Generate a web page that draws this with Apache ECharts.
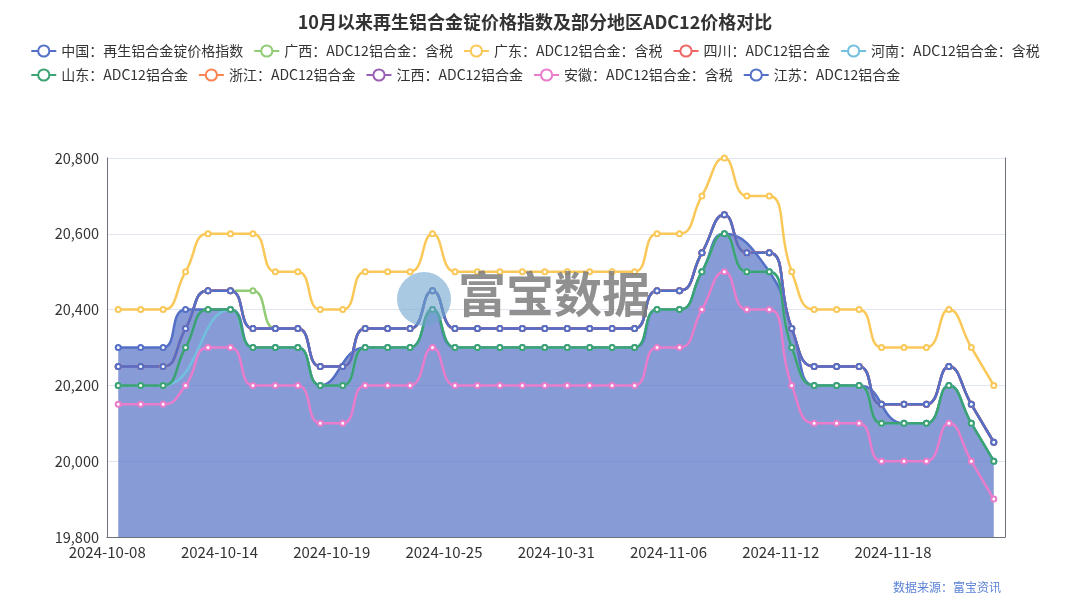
<!DOCTYPE html>
<html>
<head>
<meta charset="utf-8">
<script src="https://cdn.jsdelivr.net/npm/echarts@6/dist/echarts.min.js"></script>
<style>
  html, body { margin: 0; padding: 0; background: #fff; }
  #chart { width: 1070px; height: 600px; }
</style>
</head>
<body>
<div id="chart"></div>
<script>
const FONT = '"Noto Sans CJK SC", "Noto Sans", sans-serif';

const titleText = '10月以来再生铝合金锭价格指数及部分地区ADC12价格对比';
const sourceText = '数据来源：富宝资讯';

const dates = ['2024-10-08','2024-10-09','2024-10-10','2024-10-11','2024-10-12','2024-10-14','2024-10-15','2024-10-16','2024-10-17','2024-10-18',
  '2024-10-19','2024-10-21','2024-10-22','2024-10-23','2024-10-24','2024-10-25','2024-10-26','2024-10-28','2024-10-29','2024-10-30',
  '2024-10-31','2024-11-01','2024-11-02','2024-11-04','2024-11-05','2024-11-06','2024-11-07','2024-11-08','2024-11-09','2024-11-11',
  '2024-11-12','2024-11-13','2024-11-14','2024-11-15','2024-11-16','2024-11-18','2024-11-19','2024-11-20','2024-11-21','2024-11-22'];

const seriesNames = ['中国：再生铝合金锭价格指数','广西：ADC12铝合金：含税','广东：ADC12铝合金：含税','四川：ADC12铝合金','河南：ADC12铝合金：含税',
  '山东：ADC12铝合金','浙江：ADC12铝合金','江西：ADC12铝合金','安徽：ADC12铝合金：含税','江苏：ADC12铝合金'];

const chinaIndex = [20300,20300,20300,20400,null,20400,20300,20300,20300,20200,
  null,20300,20300,20300,20400,20300,null,20300,20300,20300,
  20300,20300,null,20300,20400,20400,20500,20600,null,20500,
  20350,20200,20200,20200,null,20100,20100,20200,20100,20000];
const guangxi = [20250,20250,20250,20350,20450,20450,20450,20350,20350,20250,
  20250,20350,20350,20350,20450,20350,20350,20350,20350,20350,
  20350,20350,20350,20350,20450,20450,20550,20650,20550,20550,
  20350,20250,20250,20250,20150,20150,20150,20250,20150,20050];
const guangdong = [20400,20400,20400,20500,20600,20600,20600,20500,20500,20400,
  20400,20500,20500,20500,20600,20500,20500,20500,20500,20500,
  20500,20500,20500,20500,20600,20600,20700,20800,20700,20700,
  20500,20400,20400,20400,20300,20300,20300,20400,20300,20200];
const sichuan = [20250,20250,20250,20350,20450,20450,20350,20350,20350,20250,
  20250,20350,20350,20350,20450,20350,20350,20350,20350,20350,
  20350,20350,20350,20350,20450,20450,20550,20650,20550,20550,
  20350,20250,20250,20250,20150,20150,20150,20250,20150,20050];
const henan = [20200,20200,20200,null,null,20400,20300,20300,20300,20200,
  20200,20300,20300,20300,20400,20300,20300,20300,20300,20300,
  20300,20300,20300,20300,20400,20400,20500,20600,20500,20500,
  20300,20200,20200,20200,20100,20100,20100,20200,20100,20000];
const shandong = [20200,20200,20200,20300,20400,20400,20300,20300,20300,20200,
  20200,20300,20300,20300,20400,20300,20300,20300,20300,20300,
  20300,20300,20300,20300,20400,20400,20500,20600,20500,20500,
  20300,20200,20200,20200,20100,20100,20100,20200,20100,20000];
const zhejiang = [20250,20250,20250,20350,20450,20450,20350,20350,20350,20250,
  20250,20350,20350,20350,20450,20350,20350,20350,20350,20350,
  20350,20350,20350,20350,20450,20450,20550,20650,20550,20550,
  20350,20250,20250,20250,20150,20150,20150,20250,20150,20050];
const jiangxi = [20250,20250,20250,20350,20450,20450,20350,20350,20350,20250,
  20250,20350,20350,20350,20450,20350,20350,20350,20350,20350,
  20350,20350,20350,20350,20450,20450,20550,20650,20550,20550,
  20350,20250,20250,20250,20150,20150,20150,20250,20150,20050];
const anhui = [20150,20150,20150,20200,20300,20300,20200,20200,20200,20100,
  20100,20200,20200,20200,20300,20200,20200,20200,20200,20200,
  20200,20200,20200,20200,20300,20300,20400,20500,20400,20400,
  20200,20100,20100,20100,20000,20000,20000,20100,20000,19900];
const jiangsu = [20250,20250,20250,20350,20450,20450,20350,20350,20350,20250,
  20250,20350,20350,20350,20450,20350,20350,20350,20350,20350,
  20350,20350,20350,20350,20450,20450,20550,20650,20550,20550,
  20350,20250,20250,20250,20150,20150,20150,20250,20150,20050];

const yTicks = { min: 19800, max: 20800, interval: 200 };

const colors = ['#5470c6','#91cc75','#fac858','#ee6666','#73c0de','#3ba272','#fc8452','#9a60b4','#ea7ccc','#5470c6'];
const allData = [chinaIndex, guangxi, guangdong, sichuan, henan, shandong, zhejiang, jiangxi, anhui, jiangsu];

const series = allData.map((d, i) => {
  const s = {
    name: seriesNames[i],
    type: 'line',
    data: d,
    smooth: true,
    connectNulls: true,
    symbol: 'emptyCircle',
    symbolSize: 5,
    showSymbol: true,
    lineStyle: { width: 2.5, color: colors[i] },
    itemStyle: { color: colors[i] }
  };
  if (i === 0) {
    s.areaStyle = { color: colors[0], opacity: 0.7 };
  }
  return s;
});

const chart = echarts.init(document.getElementById('chart'), null, { renderer: 'canvas' });
chart.setOption({
  animation: false,
  color: colors,
  textStyle: { fontFamily: FONT },
  title: [
    { text: titleText, left: 'center', top: 8,
      textStyle: { fontSize: 18, fontWeight: 'bold', color: '#333', fontFamily: FONT } },
    { text: sourceText, right: 64, bottom: 2,
      textStyle: { fontSize: 12, fontWeight: 'normal', color: '#5b82d6', fontFamily: FONT } }
  ],
  legend: {
    top: 39, left: 'center', itemGap: 10, itemWidth: 25, itemHeight: 14,
    textStyle: { fontSize: 14, color: '#333', fontFamily: FONT }
  },
  grid: { left: 107, right: 65, top: 158, bottom: 63 },
  xAxis: {
    type: 'category', data: dates, boundaryGap: true,
    axisLine: { lineStyle: { color: '#6e7079' } },
    axisTick: { interval: 4 },
    axisLabel: { interval: 4, padding: [0, 22, 0, 0], fontSize: 15, color: '#333', fontFamily: FONT }
  },
  yAxis: [
    { type: 'value', min: yTicks.min, max: yTicks.max, interval: yTicks.interval,
      axisLine: { show: true, lineStyle: { color: '#6e7079' } },
      axisTick: { show: false },
      axisLabel: { fontSize: 14.5, color: '#333', fontFamily: FONT },
      splitLine: { lineStyle: { color: '#e0e6f1' } } },
    { type: 'value', position: 'right', min: yTicks.min, max: yTicks.max, interval: yTicks.interval,
      axisLine: { show: true, lineStyle: { color: '#6e7079' } },
      axisTick: { show: false }, axisLabel: { show: false }, splitLine: { show: false } }
  ],
  graphic: [
    { type: 'circle', z: 100, shape: { cx: 424, cy: 299, r: 27 },
      style: { fill: 'rgba(110,165,205,0.6)' } },
    { type: 'text', z: 100, left: 458, top: 270,
      style: { text: '富宝数据', font: 'bold 48px "Noto Sans CJK SC"', fill: 'rgba(125,125,125,0.85)' } }
  ],
  series: series
});
</script>
</body>
</html>
